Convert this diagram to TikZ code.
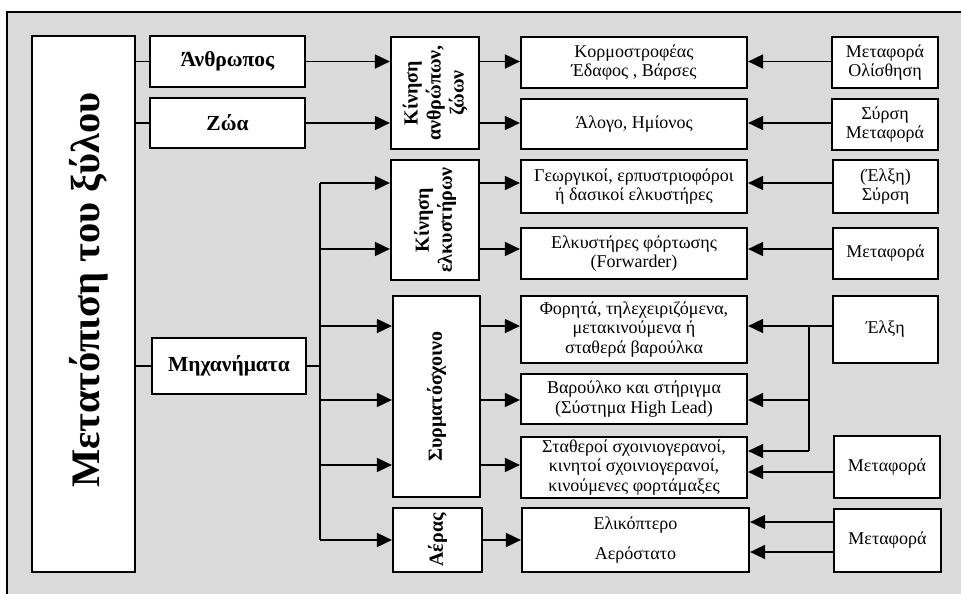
\documentclass[tikz,border=0pt]{standalone}
\usepackage{fontspec}
\setmainfont{Liberation Serif}
\usetikzlibrary{arrows.meta}
\definecolor{bg}{RGB}{218,218,218}
\begin{document}
\begin{tikzpicture}[x=1pt,y=-1pt,
 box/.style={draw=black, line width=2.2pt, fill=white, inner sep=0pt, align=center, font=\fontsize{18}{19.5}\selectfont},
 bbox/.style={box, font=\fontsize{20}{23}\selectfont\bfseries},
 abox/.style={box, font=\fontsize{21.5}{23}\selectfont\bfseries},
 ln/.style={line width=1.8pt},
 arr/.style={ln, -{Triangle[length=15pt,width=14pt]}},
]
\useasboundingbox (0,0) rectangle (961,594);
\fill[bg] (7,12) rectangle (961,594);
\draw[line width=2pt] (7,594) -- (7,12) -- (961,12);
% title
\node[box, minimum width=103pt, minimum height=536pt] (T) at (83.5,304) {};
\node[rotate=90, anchor=base, inner sep=0pt, font=\fontsize{40.5}{48}\selectfont\bfseries] (Tt) at (99,290) {Μετατόπιση του ξύλου};
% column A
\node[abox, minimum width=155pt, minimum height=51pt] (A1) at (227.5,61.5) {Άνθρωπος};
\node[abox, minimum width=155pt, minimum height=50pt] (A2) at (227.5,123) {Ζώα};
\node[abox, minimum width=154pt, minimum height=56pt] (A3) at (229,366) {Μηχανήματα};
% column B (rotated: north = left side, south = right side)
\node[bbox, rotate=90, minimum width=112pt, minimum height=88pt] (B1) at (435,93) {Κίνηση\\ανθρώπων,\\ζώων};
\node[bbox, rotate=90, minimum width=120pt, minimum height=88pt] (B2) at (435,220) {Κίνηση\\ελκυστήρων};
\node[bbox, rotate=90, minimum width=201pt, minimum height=87pt] (B3) at (436.5,396.5) {Συρματόσχοινο};
\node[bbox, rotate=90, minimum width=64pt, minimum height=89pt] (B4) at (437.5,540) {Αέρας};
% column C
\node[box, minimum width=226pt, minimum height=51pt] (C1) at (634,62.5) {Κορμοστροφέας\\Έδαφος , Βάρσες};
\node[box, minimum width=226pt, minimum height=50pt] (C2) at (634,124) {Άλογο, Ημίονος};
\node[box, minimum width=226pt, minimum height=53pt] (C3) at (634,186.5) {Γεωργικοί, ερπυστριοφόροι\\ή δασικοί ελκυστήρες};
\node[box, minimum width=226pt, minimum height=51pt] (C4) at (634,253.5) {Ελκυστήρες φόρτωσης\\(Forwarder)};
\node[box, minimum width=226pt, minimum height=67pt] (C5) at (634,329.5) {Φορητά, τηλεχειριζόμενα,\\μετακινούμενα ή\\σταθερά βαρούλκα};
\node[box, minimum width=226pt, minimum height=50pt] (C6) at (634,399) {Βαρούλκο και στήριγμα\\(Σύστημα High Lead)};
\node[box, minimum width=226pt, minimum height=61pt] (C7) at (634,467.5) {Σταθεροί σχοινιογερανοί,\\κινητοί σχοινιογερανοί,\\κινούμενες φορτάμαξες};
\node[box, minimum width=227pt, minimum height=64pt] (C8) at (635.5,540) {Ελικόπτερο\\[10pt]Αερόστατο};
% column D
\node[box, minimum width=106pt, minimum height=51pt] (D1) at (885,62.5) {Μεταφορά\\Ολίσθηση};
\node[box, minimum width=106pt, minimum height=51pt] (D2) at (885,124.5) {Σύρση\\Μεταφορά};
\node[box, minimum width=105pt, minimum height=53pt] (D3) at (885.5,186.5) {(Έλξη)\\Σύρση};
\node[box, minimum width=105pt, minimum height=51pt] (D4) at (885.5,253.5) {Μεταφορά};
\node[box, minimum width=105pt, minimum height=67pt] (D5) at (885.5,329.5) {Έλξη};
\node[box, minimum width=106pt, minimum height=62pt] (D6) at (887,467) {Μεταφορά};
\node[box, minimum width=107pt, minimum height=63pt] (D7) at (887.5,540.5) {Μεταφορά};
% row coordinates
\coordinate (r3) at (0,183);
\coordinate (r4) at (0,249);
\coordinate (r5) at (0,326);
\coordinate (r6) at (0,400);
\coordinate (r7) at (0,465);
\coordinate (r7a) at (0,451);
\coordinate (r7b) at (0,472);
\coordinate (r8) at (0,540);
\coordinate (r8a) at (0,522);
\coordinate (r8b) at (0,552);
\coordinate (tr) at (320,366);
\coordinate (jx) at (809,326);
% connectors
\draw[ln] (T.east |- A1) -- (A1.west);
\draw[ln] (T.east |- A2) -- (A2.west);
\draw[ln] (T.east |- A3) -- (A3.west);
\draw[arr] (A1.east) -- (A1 -| B1.north);
\draw[arr] (A2.east) -- (A2 -| B1.north);
\draw[arr] (B1.south |- A1) -- (A1 -| C1.west);
\draw[arr] (B1.south |- A2) -- (A2 -| C2.west);
\draw[arr] (D1.west |- A1) -- (A1 -| C1.east);
\draw[arr] (D2.west |- A2) -- (A2 -| C2.east);
\draw[ln] (A3.east) -- (tr);
\draw[ln] (tr |- r3) -- (tr |- r8);
\draw[arr] (tr |- r3) -- (B2.north |- r3);
\draw[arr] (tr |- r4) -- (B2.north |- r4);
\draw[arr] (tr |- r5) -- (B3.north |- r5);
\draw[arr] (tr |- r6) -- (B3.north |- r6);
\draw[arr] (tr |- r7) -- (B3.north |- r7);
\draw[arr] (tr |- r8) -- (B4.north |- r8);
\draw[arr] (B2.south |- r3) -- (C3.west |- r3);
\draw[arr] (B2.south |- r4) -- (C4.west |- r4);
\draw[arr] (B3.south |- r5) -- (C5.west |- r5);
\draw[arr] (B3.south |- r6) -- (C6.west |- r6);
\draw[arr] (B3.south |- r7) -- (C7.west |- r7);
\draw[arr] (B4.south |- r8) -- (C8.west |- r8);
\draw[arr] (D3.west |- r3) -- (C3.east |- r3);
\draw[arr] (D4.west |- r4) -- (C4.east |- r4);
\draw[arr] (D5.west |- r5) -- (C5.east |- r5);
\draw[ln] (jx) -- (jx |- r7a);
\draw[arr] (jx |- r6) -- (C6.east |- r6);
\draw[arr] (jx |- r7a) -- (C7.east |- r7a);
\draw[arr] (D6.west |- r7b) -- (C7.east |- r7b);
\draw[arr] (D7.west |- r8a) -- (C8.east |- r8a);
\draw[arr] (D7.west |- r8b) -- (C8.east |- r8b);
\end{tikzpicture}
\end{document}
